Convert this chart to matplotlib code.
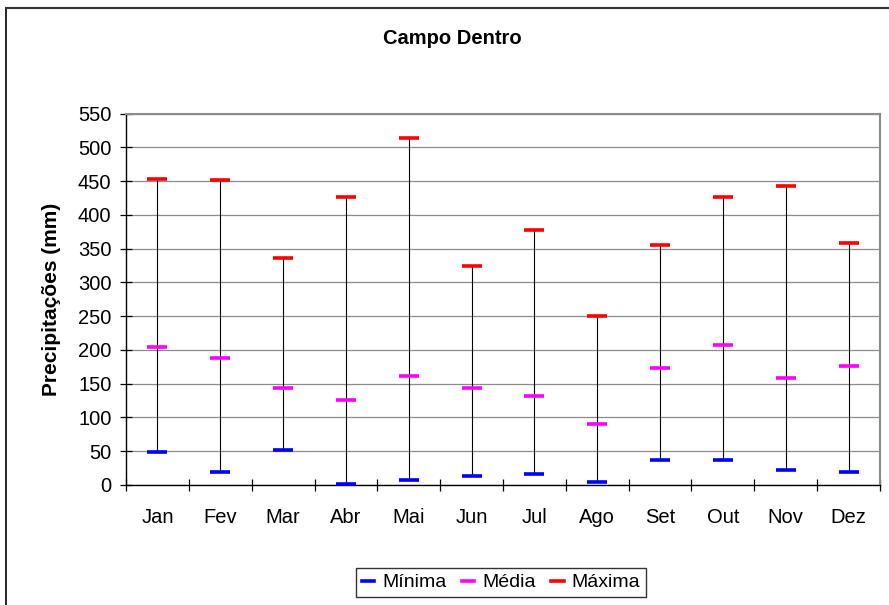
import matplotlib
matplotlib.use("Agg")
import matplotlib.pyplot as plt
from matplotlib.lines import Line2D

plt.rcParams['font.family'] = ['Liberation Sans', 'DejaVu Sans']

months = ["Jan", "Fev", "Mar", "Abr", "Mai", "Jun", "Jul", "Ago", "Set", "Out", "Nov", "Dez"]
minima = [49, 19, 52, 2, 7, 13, 16, 4, 37, 37, 22, 19]
media = [205, 188, 144, 126, 161, 144, 132, 90, 173, 208, 158, 176]
maxima = [453, 451, 336, 427, 513, 324, 377, 250, 356, 427, 442, 359]
yticks = list(range(0, 551, 50))

W, H = 889, 605
fig = plt.figure(figsize=(W / 100, H / 100), dpi=100)
ax = fig.add_axes([126 / W, 1 - 485 / H, (880 - 126) / W, (485 - 113.5) / H])

x = list(range(len(months)))
ax.vlines(x, minima, maxima, color='black', lw=0.8, zorder=2)
ax.plot(x, minima, ls='none', marker='_', ms=15, mew=2.6, color='#0000FF', label='Mínima', zorder=3)
ax.plot(x, media, ls='none', marker='_', ms=15, mew=2.6, color='#FF00FF', label='Média', zorder=3)
ax.plot(x, maxima, ls='none', marker='_', ms=15, mew=2.6, color='#FF0000', label='Máxima', zorder=3)

ax.set_xlim(-0.5, len(months) - 0.5)
ax.set_ylim(0, 550)
ax.set_yticks(yticks)
ax.set_yticklabels([str(v) for v in yticks], fontsize=14.5)
ax.yaxis.grid(True, color='#8c8c8c', lw=0.9)
ax.set_axisbelow(True)

ax.set_xticks([i + 0.5 for i in range(-1, len(months))])
ax.set_xticklabels([])
ax.set_xticks(x, minor=True)
ax.set_xticklabels(months, minor=True, fontsize=14.5)
ax.tick_params(axis='x', which='minor', length=0, pad=16.5)
ax.tick_params(axis='x', which='major', direction='inout', length=9, width=0.9)
ax.tick_params(axis='y', direction='inout', length=9, width=0.9, pad=6)

for s in ['left', 'bottom']:
    ax.spines[s].set_color('black')
    ax.spines[s].set_linewidth(1.0)
for s in ['top', 'right']:
    ax.spines[s].set_color('#8c8c8c')
    ax.spines[s].set_linewidth(1.5)

ax.set_ylabel('Precipitações (mm)', fontsize=15, fontweight='bold', labelpad=12)
fig.text(452 / W, 1 - 39 / H, 'Campo Dentro', fontsize=14.5, fontweight='bold', ha='center', va='center')

handles = [Line2D([], [], color=c, lw=2.6) for c in ['#0000FF', '#FF00FF', '#FF0000']]
leg = fig.legend(handles, ['Mínima', 'Média', 'Máxima'], loc='center', bbox_to_anchor=(501 / W, 1 - 582.5 / H),
                 ncol=3, fontsize=14, frameon=True, fancybox=False, edgecolor='black',
                 handlelength=0.65, handletextpad=0.4, columnspacing=0.8, borderpad=0.3, borderaxespad=0)
leg.get_frame().set_linewidth(1.0)

fig.add_artist(Line2D([6 / W, 6 / W], [0, 1 - 7.5 / H], transform=fig.transFigure, color='black', lw=1.2))
fig.add_artist(Line2D([6 / W, 1], [1 - 7.5 / H, 1 - 7.5 / H], transform=fig.transFigure, color='#333333', lw=1.5))

fig.savefig('out.png', dpi=100)
